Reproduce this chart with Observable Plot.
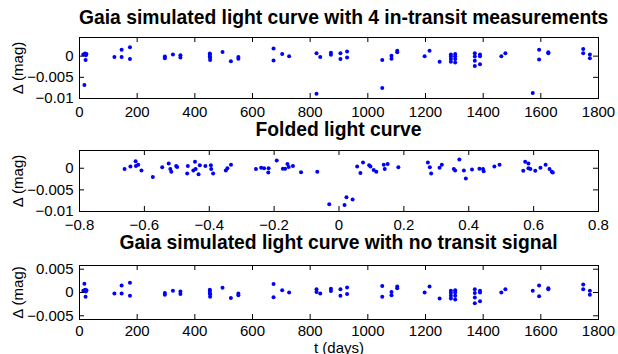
<!DOCTYPE html>
<html>
<head>
<meta charset="utf-8">
<script src="https://cdn.jsdelivr.net/npm/d3@7"></script>
<script src="https://cdn.jsdelivr.net/npm/@observablehq/plot@0.6"></script>
<style>
  body { margin: 0; background: #fff; }
  #fig { position: relative; width: 618px; height: 354px; overflow: hidden; background: #fff;
         font-family: "Liberation Sans", Arial, Helvetica, sans-serif; }
  .title { position: absolute; left: 79px; width: 519px; text-align: center; white-space: nowrap;
           font-weight: bold; font-size: 19.3px; line-height: 20px; color: #000; }
  .panel { position: absolute; left: 0; }
  .panel svg { overflow: visible; }
</style>
</head>
<body>
<div id="fig"></div>
<script>
// ---- data ----
const titles = [
  "Gaia simulated light curve with 4 in-transit measurements",
  "Folded light curve",
  "Gaia simulated light curve with no transit signal"
];
const yLabel = "Δ (mag)";
const xLabelBottom = "t (days)";

// observation times (days)
const obsTime = [
  13, 17, 19, 22, 24, 21,
  121, 146, 146, 175, 175,
  296, 296, 324, 350, 350,
  452, 452, 452, 453, 453,
  496, 525, 551, 551,
  673, 673, 703, 727,
  822, 822, 835, 872, 872, 905, 905, 928, 928,
  1050, 1050, 1082, 1082, 1102, 1102,
  1197, 1214, 1249,
  1288, 1288, 1288, 1288, 1303, 1303, 1303, 1303,
  1371, 1371, 1371, 1371, 1389, 1389, 1389,
  1463, 1477, 1572, 1594, 1594, 1626, 1626,
  1747, 1747, 1770, 1770
];
// light curve with 4 in-transit measurements (mag)
const deltaTransit = [
  0.0004, -0.0068, 0.0006, 0.0002, 0.0005, -0.0009,
  -0.0002, 0.0015, -0.0002, 0.0021, -0.0007,
  -0.0001, -0.0005, 0.0004, 0.0002, -0.0003,
  0.0006, 0.0003, -0.0001, -0.0004, -0.0009,
  0.0010, -0.0012, -0.0002, -0.0006,
  0.0018, -0.0010, 0.0005, 0.0000,
  0.0007, -0.0089, -0.0002, 0.0008, 0.0003, 0.0007, -0.0007, 0.0011, -0.0003,
  -0.0075, -0.0009, 0.0001, -0.0006, 0.0013, 0.0009,
  0.0000, 0.0013, -0.0013,
  0.0004, -0.0001, -0.0007, -0.0013, 0.0005, 0.0000, -0.0007, -0.0015,
  0.0007, -0.0001, -0.0011, -0.0023, 0.0004, 0.0000, -0.0019,
  0.0000, 0.0007, -0.0087, 0.0015, -0.0008, 0.0009, 0.0007,
  0.0017, 0.0007, 0.0004, -0.0005
];
// light curve with no transit signal (mag)
const deltaNoTransit = [
  0.0004, 0.0019, 0.0006, 0.0002, 0.0005, -0.0009,
  -0.0002, 0.0015, -0.0002, 0.0021, -0.0007,
  -0.0001, -0.0005, 0.0004, 0.0002, -0.0003,
  0.0006, 0.0003, -0.0001, -0.0004, -0.0009,
  0.0010, -0.0012, -0.0002, -0.0006,
  0.0018, -0.0010, 0.0005, 0.0000,
  0.0007, 0.0001, -0.0002, 0.0008, 0.0003, 0.0007, -0.0007, 0.0011, -0.0003,
  0.0014, -0.0009, 0.0001, -0.0006, 0.0013, 0.0009,
  0.0000, 0.0013, -0.0013,
  0.0004, -0.0001, -0.0007, -0.0013, 0.0005, 0.0000, -0.0007, -0.0015,
  0.0007, -0.0001, -0.0011, -0.0023, 0.0004, 0.0000, -0.0019,
  0.0000, 0.0007, 0.0004, 0.0015, -0.0008, 0.0009, 0.0007,
  0.0017, 0.0007, 0.0004, -0.0005
];
// folded light curve
const foldPhase = [
  -0.661, -0.643, -0.627, -0.626, -0.619, -0.609, -0.574, -0.545, -0.525, -0.520,
  -0.517, -0.502, -0.499, -0.468, -0.466, -0.449, -0.444, -0.442, -0.433, -0.429,
  -0.412, -0.395, -0.394, -0.388, -0.349, -0.344, -0.333, -0.256, -0.240, -0.231,
  -0.218, -0.217, -0.192, -0.173, -0.166, -0.159, -0.155, -0.142, -0.117, -0.067,
  -0.030, 0.017, 0.023, 0.042,
  0.056, 0.066, 0.074, 0.093, 0.097, 0.107, 0.115, 0.138, 0.141, 0.150,
  0.183, 0.274, 0.280, 0.284, 0.310, 0.317, 0.354, 0.358, 0.371, 0.385,
  0.391, 0.410, 0.433, 0.444, 0.446, 0.479, 0.495, 0.568, 0.574, 0.584,
  0.584, 0.590, 0.605, 0.621, 0.637, 0.649, 0.656, 0.659
];
const foldDelta = [
  -0.0002, 0.0004, 0.0016, 0.0005, 0.0008, -0.0005, -0.0020, 0.0002, 0.0011, -0.0002,
  -0.0008, 0.0005, 0.0003, -0.0012, 0.0005, -0.0005, 0.0015, -0.0002, -0.0014, 0.0007,
  0.0005, 0.0007, -0.0002, -0.0012, -0.0005, 0.0000, 0.0008, -0.0002, 0.0001, 0.0000,
  -0.0010, 0.0000, 0.0018, -0.0001, -0.0001, 0.0010, 0.0003, 0.0005, -0.0009, -0.0008,
  -0.0083, -0.0085, -0.0067, -0.0072,
  0.0004, -0.0011, 0.0013, 0.0007, 0.0004, -0.0004, -0.0008, 0.0008, -0.0002, 0.0010,
  0.0002, 0.0013, 0.0002, -0.0012, 0.0001, 0.0008, -0.0002, -0.0005, 0.0020, -0.0005,
  -0.0024, -0.0003, -0.0001, -0.0002, -0.0007, 0.0004, 0.0008, -0.0006, 0.0015, 0.0011,
  0.0000, -0.0002, -0.0006, 0.0001, 0.0008, -0.0002, -0.0008, -0.0010
];

const timeTicks = [0, 200, 400, 600, 800, 1000, 1200, 1400, 1600, 1800];
const phaseTicks = [-0.8, -0.6, -0.4, -0.2, 0, 0.2, 0.4, 0.6, 0.8];
const yTicksTransit = [0, -0.005, -0.01];
const yTicksNoTransit = [0.005, 0, -0.005];

// ---- drawing ----
const W = 618, ML = 79, MR = 20, BOXW = W - ML - MR;
const fig = document.getElementById("fig");
const fmt = d => d === 0 ? "0" : (d < 0 ? "\u2212" : "") + String(Math.abs(d));

function panel({xs, ys, xDomain, yDomain, xTicks, yTicks, boxTop, boxH, title, titleTop, xLabel, xPad = 8}) {
  const MT = 2, MB = xLabel ? 38 : 24;
  const data = xs.map((x, i) => ({x, y: ys[i]}));
  const tl = 5;
  const chart = Plot.plot({
    width: W, height: MT + boxH + MB,
    marginLeft: ML, marginRight: MR, marginTop: MT, marginBottom: MB,
    style: {fontFamily: '"Liberation Sans", Arial, sans-serif', fontSize: "15px", color: "#000", background: "transparent"},
    x: {domain: xDomain, ticks: xTicks, tickFormat: fmt, tickSize: 0, tickPadding: xPad,
        label: xLabel || null, labelAnchor: "center", labelOffset: 33, labelArrow: "none"},
    y: {domain: yDomain, ticks: yTicks, tickFormat: fmt, tickSize: 0, tickPadding: 6,
        label: yLabel, labelAnchor: "center", labelOffset: 67, labelArrow: "none"},
    marks: [
      Plot.dot(data, {x: "x", y: "y", r: 2, fill: "#0000ff", stroke: null}),
      Plot.tickX(xTicks, {x: d => d, insetTop: boxH - tl, stroke: "#000"}),
      Plot.tickX(xTicks, {x: d => d, insetBottom: boxH - tl, stroke: "#000"}),
      Plot.tickY(yTicks, {y: d => d, insetRight: BOXW - tl, stroke: "#000"}),
      Plot.tickY(yTicks, {y: d => d, insetLeft: BOXW - tl, stroke: "#000"}),
      Plot.frame({stroke: "#000", strokeWidth: 1})
    ]
  });
  const div = document.createElement("div");
  div.className = "panel";
  div.style.top = (boxTop - MT) + "px";
  div.appendChild(chart);
  fig.appendChild(div);
  const t = document.createElement("div");
  t.className = "title";
  t.style.top = titleTop + "px";
  t.textContent = title;
  fig.appendChild(t);
}

panel({xs: obsTime, ys: deltaTransit, xDomain: [0, 1800], yDomain: [-0.01, 0.0044],
       xTicks: timeTicks, yTicks: yTicksTransit, boxTop: 37, boxH: 61, title: titles[0], titleTop: 8});
panel({xs: foldPhase, ys: foldDelta, xDomain: [-0.8, 0.8], yDomain: [-0.01, 0.0041],
       xTicks: phaseTicks, yTicks: yTicksTransit, boxTop: 150, boxH: 61, title: titles[1], titleTop: 120});
panel({xs: obsTime, ys: deltaNoTransit, xDomain: [0, 1800], yDomain: [-0.0058, 0.0058],
       xTicks: timeTicks, yTicks: yTicksNoTransit, boxTop: 265, boxH: 54, title: titles[2], titleTop: 233,
       xLabel: xLabelBottom, xPad: 6});
</script>
</body>
</html>
